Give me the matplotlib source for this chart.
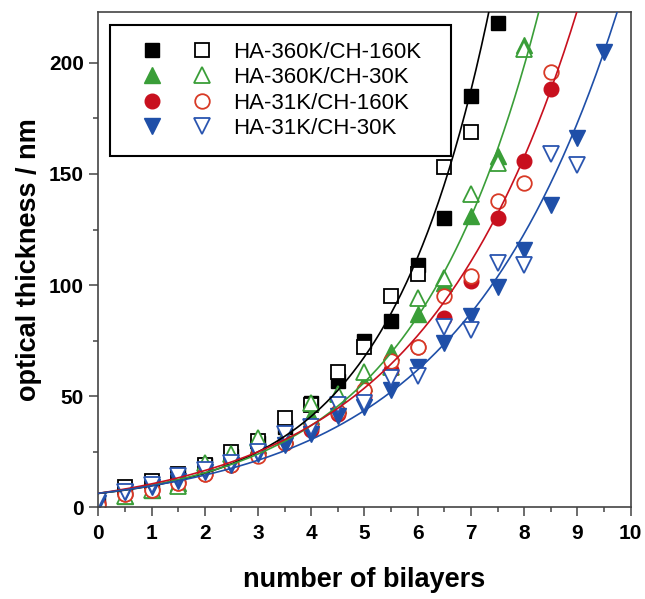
import numpy as np
import matplotlib
matplotlib.use("Agg")
import matplotlib.pyplot as plt
from matplotlib.legend_handler import HandlerTuple
from matplotlib.ticker import MultipleLocator

plt.rcParams["font.family"] = ["Liberation Sans", "DejaVu Sans"]

# number of bilayers (half steps)
bilayers = [0, 0.5, 1, 1.5, 2, 2.5, 3, 3.5, 4, 4.5, 5, 5.5, 6, 6.5, 7, 7.5, 8, 8.5, 9, 9.5]

labels = ["HA-360K/CH-160K", "HA-360K/CH-30K", "HA-31K/CH-160K", "HA-31K/CH-30K"]
colors = ["#000000", "#3a9e38", "#c8101e", "#1f4fa8"]
open_colors = ["#000000", "#3a9e38", "#d83a26", "#2a55b0"]
markers = ["s", "^", "o", "v"]
msizes = [9.5, 11.5, 10.5, 11.5]

# optical thickness / nm, filled symbols
black_filled = [1.5, 8, 11, 14, 19, 23, 29, 36, 47, 57, 75, 84, 109, 130, 185, 218]
green_filled = [1, 5, 8, 11, 19, 22, 28, 32, 41, 46, 56, 70, 87, 101, 131, 158, 208]
red_filled = [2, 6, 8, 11, 15, 19, 24, 29, 35, 42, 50, 62, 72, 85, 102, 130, 156, 188]
blue_filled = [2, 7, 9, 12, 16, 19, 24, 28, 33, 41, 45, 53, 63, 74, 86, 99, 116, 136, 166, 205]

# optical thickness / nm, open symbols
black_open = [1, 9, 12, 15, 19, 25, 30, 40, 46, 61, 72, 95, 105, 153, 169]
green_open = [0.5, 5, 8, 9.5, 20, 24, 31, 32, 47, 51, 61, 63, 94, 103, 141, 155, 206]
red_open = [1, 6, 8, 11, 15, 19, 23, 29, 36, 43, 53, 66, 72, 95, 104, 138, 146, 196]
blue_open = [3, 7, 10, 14, 17, 20, 25, 33, 36, 46, 47, 58, 59, 81, 80, 110, 109, 159, 154]

# exponential growth fits y = A*exp(b*n) + c
fit_A = [5.07, 7.1, 10.4, 8.6]
fit_b = [0.515, 0.417, 0.343, 0.335]
fit_c = [1.2, -0.8, -4.1, -2.3]

filled = [black_filled, green_filled, red_filled, blue_filled]
opened = [black_open, green_open, red_open, blue_open]

fig = plt.figure(figsize=(6.45, 5.99), dpi=100)
ax = fig.add_axes([0.1524, 0.153, 0.8254, 0.8275])

handles = []
for i in range(4):
    xf = bilayers[:len(filled[i])]
    xo = bilayers[:len(opened[i])]
    hf, = ax.plot(xf, filled[i], linestyle="none", marker=markers[i], ms=msizes[i],
                  color=colors[i], mec=colors[i], zorder=2)
    ho, = ax.plot(xo, opened[i], linestyle="none", marker=markers[i], ms=msizes[i],
                  mfc="white", mec=open_colors[i], mew=1.3, zorder=2)
    handles.append((hf, ho))

n = np.linspace(0, 10, 400)
for i in range(4):
    ax.plot(n, fit_A[i] * np.exp(fit_b[i] * n) + fit_c[i], color=colors[i],
            linewidth=1.2, zorder=3)

ax.set_xlim(0, 10)
ax.set_ylim(0, 223)
ax.xaxis.set_major_locator(MultipleLocator(1))
ax.xaxis.set_minor_locator(MultipleLocator(0.5))
ax.yaxis.set_major_locator(MultipleLocator(50))
ax.yaxis.set_minor_locator(MultipleLocator(25))
ax.tick_params(which="major", direction="out", length=6.5, width=1.1, color="#444444",
               labelsize=15, pad=4)
ax.tick_params(which="minor", direction="out", length=3.5, width=1.1, color="#444444")
ax.tick_params(axis="x", which="major", pad=5.5)
for lab in ax.get_xticklabels() + ax.get_yticklabels():
    lab.set_fontweight("bold")
for sp in ax.spines.values():
    sp.set_color("#444444")
    sp.set_linewidth(1.2)

ax.set_xlabel("number of bilayers", fontsize=19.5, fontweight="bold", labelpad=17)
ax.set_ylabel("optical thickness / nm", fontsize=19.5, fontweight="bold", labelpad=5)

leg = ax.legend(handles, labels, handler_map={tuple: HandlerTuple(ndivide=None, pad=0)},
                loc="upper left", bbox_to_anchor=(0.022, 0.973, 0.6405, 0.0),
                mode="expand", borderaxespad=0, fontsize=16, handlelength=4.5,
                handletextpad=0.3, borderpad=0.75, labelspacing=0.2,
                fancybox=False, framealpha=1, edgecolor="black")
leg.get_frame().set_linewidth(1.5)

fig.savefig("out.png", dpi=100)
